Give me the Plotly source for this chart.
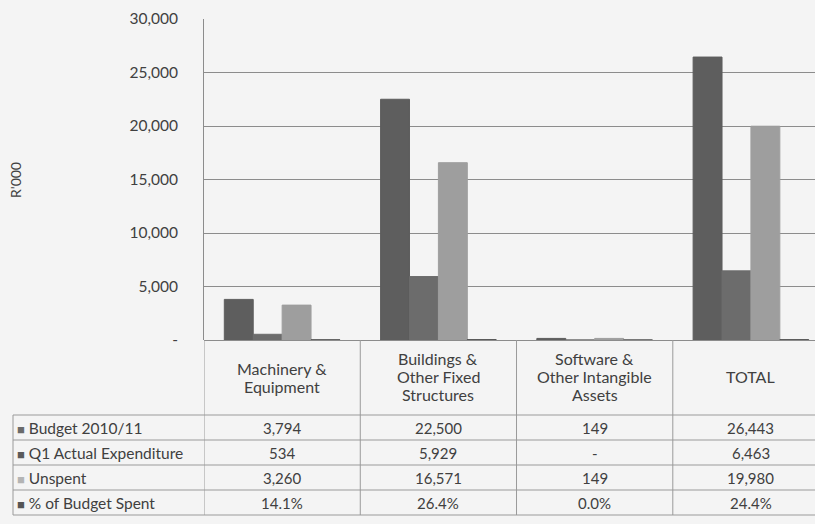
import plotly.graph_objects as go

# ---- data ----
categories = ["Machinery & Equipment", "Buildings & Other Fixed Structures",
              "Software & Other Intangible Assets", "TOTAL"]
header_labels = ["Machinery &<br>Equipment", "Buildings &<br>Other Fixed<br>Structures",
                 "Software &<br>Other Intangible<br>Assets", "TOTAL"]
series_names = ["Budget 2010/11", "Q1 Actual Expenditure", "Unspent", "% of Budget Spent"]
budget = [3794, 22500, 149, 26443]
actual = [534, 5929, 0, 6463]
unspent = [3260, 16571, 149, 19980]
pct_spent = [14.1, 26.4, 0.0, 24.4]
y_ticks = [0, 5000, 10000, 15000, 20000, 25000, 30000]
y_tick_labels = ["-", "5,000", "10,000", "15,000", "20,000", "25,000", "30,000"]

colors = ["#5e5e5e", "#6c6c6c", "#9e9e9e", "#4e4e4e"]
key_colors = ["#6a6a6a", "#5a5a5a", "#b4b4b4", "#555555"]

W, H = 815, 524
L, T, B = 204, 19, 184
plot_h = H - T - B
plot_w = W - L

def py(p):  # pixel y -> paper y
    return (H - B - p) / plot_h

def px(p):  # pixel x -> paper x
    return (p - L) / plot_w

FONT = "Lato"
TXT = "#404040"
GRID = "#8c8c8c"
TBL = "#9a9a9a"
BG = "#f4f4f4"

fig = go.Figure()
for name, vals, c in zip(series_names, [budget, actual, unspent, pct_spent], colors):
    fig.add_trace(go.Bar(
        x=categories, y=vals, name=name,
        marker=dict(color=c, line=dict(color=c, width=1)),
        showlegend=False,
    ))

def fmt(v):
    return "-" if v == 0 else f"{v:,}"

table_rows = [
    [fmt(v) for v in budget],
    [fmt(v) for v in actual],
    [fmt(v) for v in unspent],
    [f"{v:.1f}%" for v in pct_spent],
]

shapes = []
annotations = []

# vertical table lines at category boundaries
for b in [-0.5, 0.5, 1.5, 2.5, 3.5]:
    shapes.append(dict(type="line", xref="x", yref="paper", x0=b, x1=b,
                       y0=0, y1=py(515), line=dict(color=TBL, width=1)))
# label column border
shapes.append(dict(type="line", xref="paper", yref="paper", x0=px(13), x1=px(13),
                   y0=py(415), y1=py(515), line=dict(color=TBL, width=1)))
# horizontal table lines
for yl in [415, 440, 465, 490, 515]:
    shapes.append(dict(type="line", xref="paper", yref="paper", x0=px(13), x1=1.0,
                       y0=py(yl), y1=py(yl), line=dict(color=TBL, width=1.2)))

# header labels (one annotation per line for tight line spacing)
HEAD_CENTER, HEAD_STEP = 377, 18
for cat, lab in zip(categories, header_labels):
    lines = lab.split("<br>")
    n = len(lines)
    for i, ln in enumerate(lines):
        yc = HEAD_CENTER + (i - (n - 1) / 2) * HEAD_STEP
        annotations.append(dict(xref="x", yref="paper", x=cat, y=py(yc), text=ln,
                                xanchor="center", yanchor="middle",
                                showarrow=False, font=dict(family=FONT, size=16, color=TXT)))

# rows
row_centers = [428, 453, 478, 503]
for r, (name, kc, yc) in enumerate(zip(series_names, key_colors, row_centers)):
    annotations.append(dict(xref="paper", yref="paper", x=px(15), y=py(yc),
                            xanchor="left", yanchor="middle",
                            text=f"<span style='color:{kc};font-size:13px'>■</span> {name}",
                            showarrow=False, font=dict(family=FONT, size=15.5, color=TXT)))
    for cat, val in zip(categories, table_rows[r]):
        annotations.append(dict(xref="x", yref="paper", x=cat, y=py(yc), text=val,
                                xanchor="center", yanchor="middle",
                                showarrow=False, font=dict(family=FONT, size=15, color=TXT)))

# y axis title
annotations.append(dict(xref="paper", yref="paper", x=px(16), y=py(180), text="R'000",
                        xanchor="center", yanchor="middle",
                        textangle=-90, showarrow=False,
                        font=dict(family=FONT, size=14, color=TXT)))

fig.update_layout(
    width=W, height=H,
    margin=dict(l=L, r=0, t=T, b=B, pad=0),
    paper_bgcolor=BG, plot_bgcolor=BG,
    barmode="group", bargap=0.26, bargroupgap=0,
    shapes=shapes, annotations=annotations,
    font=dict(family=FONT, color=TXT),
)
fig.update_xaxes(range=[-0.5, 3.41], showticklabels=False, showgrid=False,
                 zeroline=False, showline=False, ticks="")
fig.update_yaxes(range=[0, 30000], tickvals=y_ticks, ticktext=y_tick_labels,
                 showgrid=True, gridcolor=GRID, gridwidth=1,
                 zeroline=True, zerolinecolor=GRID, zerolinewidth=1,
                 showline=True, linecolor=GRID, linewidth=1,
                 ticks="", ticklabelstandoff=22,
                 tickfont=dict(family=FONT, size=15.5, color=TXT))

fig.write_html("out.html",
               config={"displayModeBar": False},
               post_script="document.body.style.margin='0';"
                           "document.body.style.overflow='hidden';"
                           f"document.body.style.background='{BG}';")
